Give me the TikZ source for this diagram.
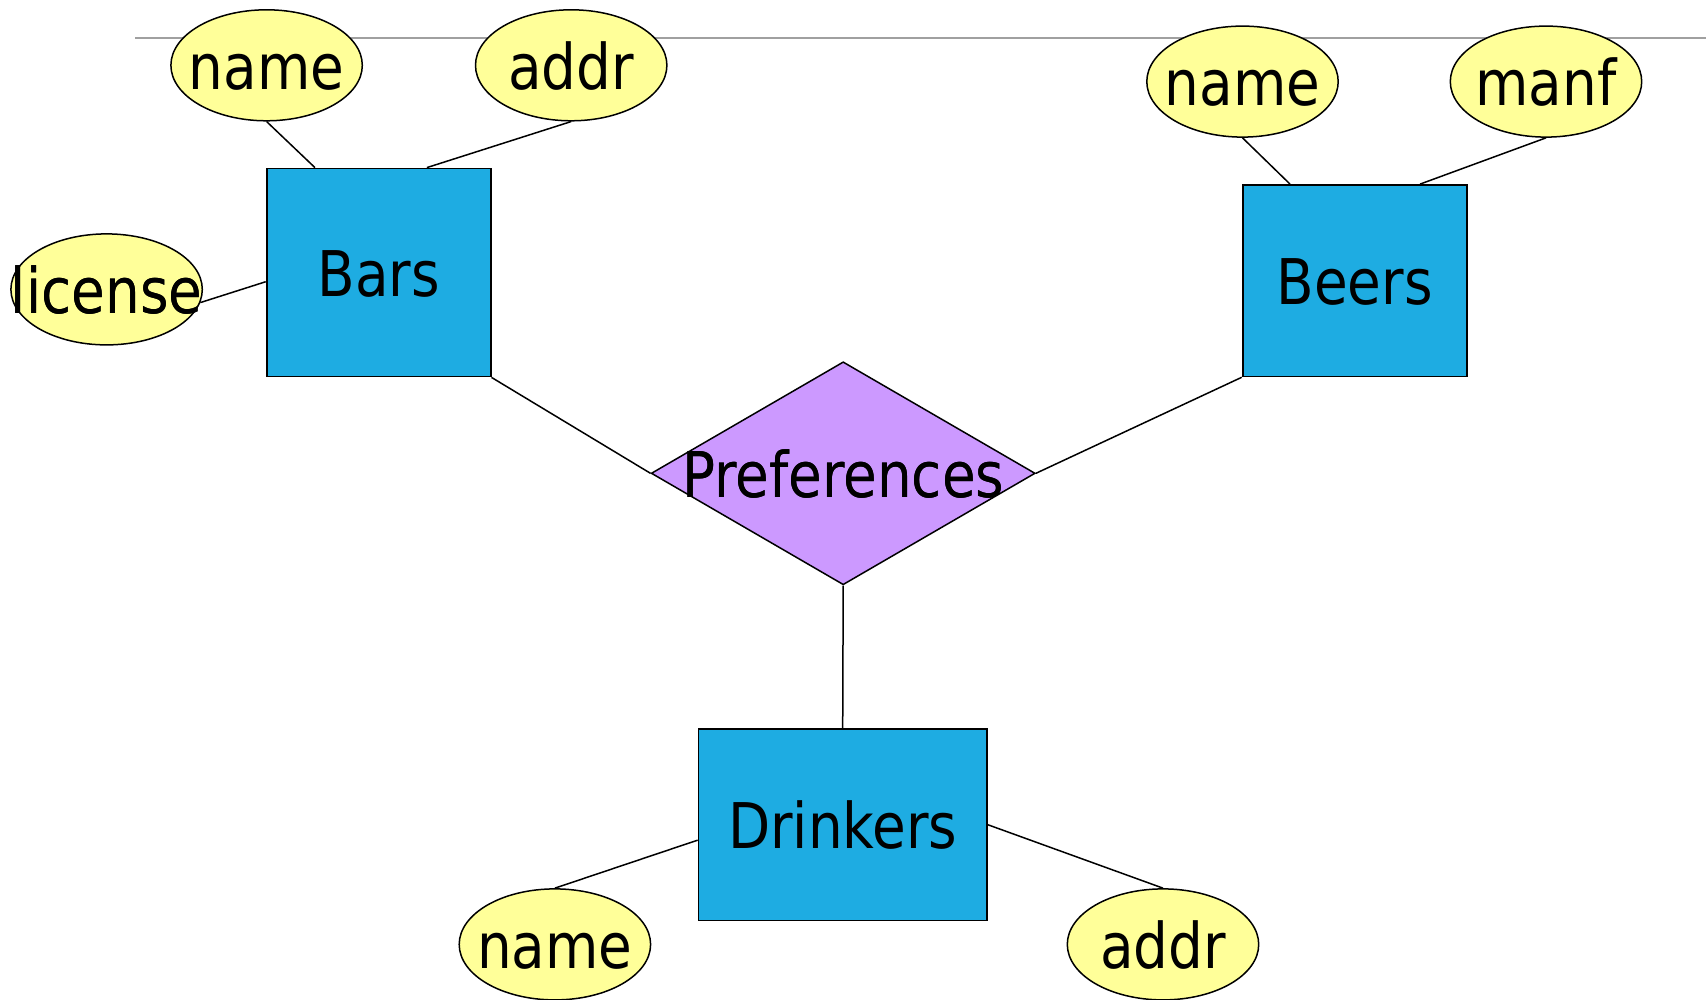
\documentclass[tikz,border=0pt]{standalone}
\usepackage{fontspec}
\setmainfont{DejaVu Sans}[FakeStretch=0.87]
\usetikzlibrary{shapes.geometric,calc}
\definecolor{entblue}{HTML}{1EACE2}
\definecolor{attyellow}{HTML}{FFFF99}
\definecolor{relpurple}{HTML}{CC99FF}
\definecolor{rulegray}{HTML}{A0A0A0}
\tikzset{
  entity/.style={draw=black, line width=1.8pt, fill=entblue, rectangle, inner sep=0pt},
  attr/.style={draw=black, line width=1.5pt, fill=attyellow, ellipse, inner sep=0pt,
    minimum width=191.4pt, minimum height=111pt},
  rel/.style={draw=black, line width=1.5pt, fill=relpurple, diamond, inner sep=0pt,
    minimum width=384pt, minimum height=223pt},
  conn/.style={draw=black, line width=1.5pt},
  lbl/.style={font=\fontsize{63}{75}\selectfont, text height=48pt, text depth=0pt}
}
\newcommand{\zw}[1]{\makebox[0pt]{#1}}
\begin{document}
\begin{tikzpicture}[x=1pt,y=-1pt]
\useasboundingbox (0,0) rectangle (1706,1000);
\coordinate (rulestart) at (135,38);
\coordinate (ruleend) at (1706,38);
\draw[rulegray, line width=1.5pt] (rulestart) -- (ruleend);

% entities
\node[entity, lbl, minimum width=224pt, minimum height=208pt] (bars) at (378.6,272.5) {\zw{Bars}};
\node[entity, lbl, minimum width=224pt, minimum height=191.4pt] (beers) at (1354.6,280.7) {\zw{Beers}};
\node[entity, lbl, minimum width=288.3pt, minimum height=191.4pt] (dr) at (842.7,824.7) {\zw{Drinkers}};

% relationship
\node[rel, lbl] (pref) at (843.2,473.3) {\zw{Preferences}};

% attributes
\node[attr, lbl] (bn) at (266.6,65.3) {\zw{name}};
\node[attr, lbl] (ba) at (571.2,65.3) {\zw{addr}};
\node[attr, lbl] (lic) at (106.6,289.4) {\zw{license}};
\node[attr, lbl] (en) at (1242.5,81.6) {\zw{name}};
\node[attr, lbl] (em) at (1546.0,81.6) {\zw{manf}};
\node[attr, lbl] (dn) at (554.9,944.4) {\zw{name}};
\node[attr, lbl] (da) at (1163.0,944.4) {\zw{addr}};

% connectors
\draw[conn] (bn.south) -- ($(bars.north west)!0.218!(bars.north east)$);
\draw[conn] (ba.south) -- ($(bars.north west)!0.714!(bars.north east)$);
\draw[conn] (lic.-8) -- ($(bars.north west)!0.544!(bars.south west)$);
\draw[conn] (en.south) -- ($(beers.north west)!0.214!(beers.north east)$);
\draw[conn] (em.south) -- ($(beers.north west)!0.79!(beers.north east)$);
\draw[conn] (bars.south east) -- (pref.west);
\draw[conn] (beers.south west) -- (pref.east);
\draw[conn] (pref.south) -- (dr.north);
\draw[conn] ($(dr.north west)!0.58!(dr.south west)$) -- (dn.north);
\draw[conn] (dr.east) -- (da.north);

% redraw text on top of connectors
\node[lbl] at (lic.center) {\zw{license}};
\node[lbl] at (pref.center) {\zw{Preferences}};
\end{tikzpicture}
\end{document}
